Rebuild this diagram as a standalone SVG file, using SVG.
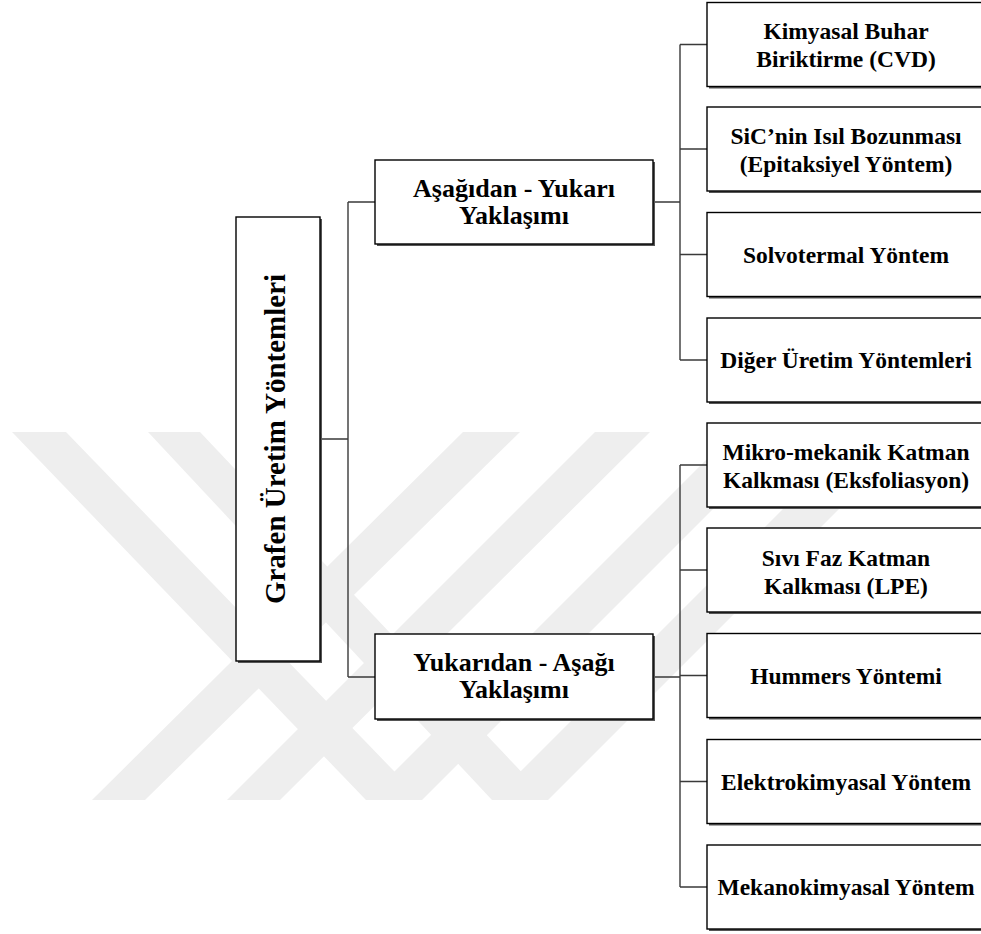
<svg xmlns="http://www.w3.org/2000/svg" width="981" height="934" viewBox="0 0 981 934">
<style>
.box{fill:#fff;stroke:#000;stroke-width:1.4}
.sh{fill:#555}
.wm{fill:#eeeeee}
.con{fill:none;stroke:#3a3a3a;stroke-width:1.4}
text{font-family:"Liberation Serif","Times New Roman",serif;font-weight:bold;fill:#000;text-anchor:middle}
.r{font-size:23.5px}
.m{font-size:26px}
.root{font-size:29px}
</style>
<rect width="981" height="934" fill="#fff"/>
<g id="watermark">
<polygon class="wm" points="12,432 66,432 422,800 366,800"/>
<polygon class="wm" points="148,432 200,432 548,800 492,800"/>
<polygon class="wm" points="92,800 145,800 520,432 463,432"/>
<polygon class="wm" points="227,800 280,800 650,432 595,432"/>
<polygon class="wm" points="366,800 422,800 790,432 734,432"/>
<polygon class="wm" points="492,800 548,800 916,432 860,432"/>
</g>
<g id="connectors">
<path class="con" d="M320,439 H348 M348,202 V677 M348,202 H375 M348,677 H375"/>
<path class="con" d="M653,202 H680 M680,44.5 V360 M680,44.5 H707 M680,149 H707 M680,254.5 H707 M680,360 H707"/>
<path class="con" d="M653,677 H680 M680,465 V887 M680,465 H707 M680,570 H707 M680,675.5 H707 M680,781.5 H707 M680,887 H707"/>
</g>
<g id="root">
<rect class="sh" x="238" y="219" width="84" height="444"/>
<rect class="box" x="236" y="217" width="84" height="444"/>
<text class="root" transform="translate(285,439) rotate(-90)">Grafen Üretim Yöntemleri</text>
</g>
<g id="bottom-up">
<rect class="sh" x="377" y="162" width="278" height="84"/>
<rect class="box" x="375" y="160" width="278" height="84"/>
<text class="m" x="514" y="196.5">Aşağıdan - Yukarı</text>
<text class="m" x="514" y="223.5">Yaklaşımı</text>
</g>
<g id="top-down">
<rect class="sh" x="377" y="636" width="278" height="85"/>
<rect class="box" x="375" y="634" width="278" height="85"/>
<text class="m" x="514" y="671">Yukarıdan - Aşağı</text>
<text class="m" x="514" y="698">Yaklaşımı</text>
</g>
<g id="cvd">
<rect class="sh" x="709" y="4.5" width="290" height="84"/>
<rect class="box" x="707" y="2.5" width="290" height="84"/>
<text class="r" x="846" y="39">Kimyasal Buhar</text>
<text class="r" x="846" y="67">Biriktirme (CVD)</text>
</g>
<g id="sic">
<rect class="sh" x="709" y="109" width="290" height="84"/>
<rect class="box" x="707" y="107" width="290" height="84"/>
<text class="r" x="846" y="143.5">SiC’nin Isıl Bozunması</text>
<text class="r" x="846" y="171.5">(Epitaksiyel Yöntem)</text>
</g>
<g id="solvotermal">
<rect class="sh" x="709" y="214.5" width="290" height="84"/>
<rect class="box" x="707" y="212.5" width="290" height="84"/>
<text class="r" x="846" y="262.5">Solvotermal Yöntem</text>
</g>
<g id="diger">
<rect class="sh" x="709" y="320" width="290" height="84"/>
<rect class="box" x="707" y="318" width="290" height="84"/>
<text class="r" x="846" y="368">Diğer Üretim Yöntemleri</text>
</g>
<g id="mikro">
<rect class="sh" x="709" y="425" width="290" height="84"/>
<rect class="box" x="707" y="423" width="290" height="84"/>
<text class="r" x="846" y="460">Mikro-mekanik Katman</text>
<text class="r" x="846" y="488">Kalkması (Eksfoliasyon)</text>
</g>
<g id="lpe">
<rect class="sh" x="709" y="530" width="290" height="84"/>
<rect class="box" x="707" y="528" width="290" height="84"/>
<text class="r" x="846" y="566">Sıvı Faz Katman</text>
<text class="r" x="846" y="594">Kalkması (LPE)</text>
</g>
<g id="hummers">
<rect class="sh" x="709" y="635.5" width="290" height="84"/>
<rect class="box" x="707" y="633.5" width="290" height="84"/>
<text class="r" x="846" y="684">Hummers Yöntemi</text>
</g>
<g id="elektrokimyasal">
<rect class="sh" x="709" y="741.5" width="290" height="84"/>
<rect class="box" x="707" y="739.5" width="290" height="84"/>
<text class="r" x="846" y="789.5">Elektrokimyasal Yöntem</text>
</g>
<g id="mekanokimyasal">
<rect class="sh" x="709" y="847" width="290" height="84"/>
<rect class="box" x="707" y="845" width="290" height="84"/>
<text class="r" x="846" y="895">Mekanokimyasal Yöntem</text>
</g>
</svg>
